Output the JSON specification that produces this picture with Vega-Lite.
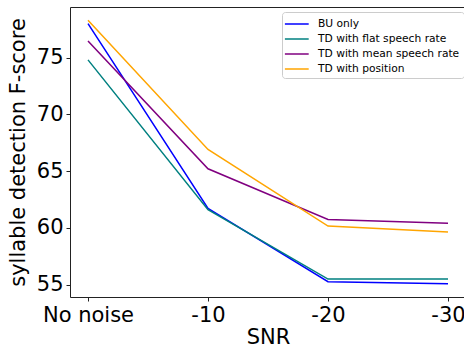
{
  "$schema": "https://vega.github.io/schema/vega-lite/v6.json",
  "autosize": "none",
  "width": 396,
  "height": 290,
  "padding": {"left": 70, "top": 7, "right": 0, "bottom": 55},
  "background": "white",
  "config": {
    "font": "DejaVu Sans",
    "view": {"stroke": "#222222", "strokeWidth": 1},
    "axis": {
      "grid": false,
      "domain": false,
      "tickColor": "#222222",
      "tickSize": 4,
      "labelFontSize": 21,
      "labelColor": "black",
      "titleFontSize": 21,
      "titleFontWeight": "normal",
      "titleColor": "black",
      "labelPadding": 3
    }
  },
  "data": {
    "values": [
      {"snr": "No noise", "series": "BU only", "f": 78.0},
      {"snr": "-10", "series": "BU only", "f": 61.7},
      {"snr": "-20", "series": "BU only", "f": 55.25},
      {"snr": "-30", "series": "BU only", "f": 55.07},
      {"snr": "No noise", "series": "TD with flat speech rate", "f": 74.8},
      {"snr": "-10", "series": "TD with flat speech rate", "f": 61.6},
      {"snr": "-20", "series": "TD with flat speech rate", "f": 55.48},
      {"snr": "-30", "series": "TD with flat speech rate", "f": 55.48},
      {"snr": "No noise", "series": "TD with mean speech rate", "f": 76.46},
      {"snr": "-10", "series": "TD with mean speech rate", "f": 65.2},
      {"snr": "-20", "series": "TD with mean speech rate", "f": 60.74},
      {"snr": "-30", "series": "TD with mean speech rate", "f": 60.41},
      {"snr": "No noise", "series": "TD with position", "f": 78.3},
      {"snr": "-10", "series": "TD with position", "f": 66.9},
      {"snr": "-20", "series": "TD with position", "f": 60.15},
      {"snr": "-30", "series": "TD with position", "f": 59.62}
    ]
  },
  "mark": {"type": "line", "strokeWidth": 1.5},
  "encoding": {
    "x": {
      "field": "snr",
      "type": "ordinal",
      "sort": ["No noise", "-10", "-20", "-30"],
      "scale": {"type": "point", "padding": 0.15},
      "axis": {"title": "SNR", "labelAngle": 0, "titlePadding": 1}
    },
    "y": {
      "field": "f",
      "type": "quantitative",
      "scale": {"domain": [53.9, 79.46], "nice": false, "zero": false},
      "axis": {"title": "syllable detection F-score", "values": [55, 60, 65, 70, 75], "titlePadding": 8}
    },
    "color": {
      "field": "series",
      "type": "nominal",
      "scale": {
        "domain": ["BU only", "TD with flat speech rate", "TD with mean speech rate", "TD with position"],
        "range": ["blue", "teal", "purple", "orange"]
      },
      "legend": {
        "title": null,
        "orient": "none",
        "legendX": 212,
        "legendY": 5,
        "symbolType": "M-1.3,0H2.1",
        "symbolSize": 196,
        "symbolStrokeWidth": 1.5,
        "symbolFillColor": "transparent",
        "labelFontSize": 10.7,
        "labelColor": "black",
        "labelOffset": 16,
        "rowPadding": 2,
        "padding": 4,
        "strokeColor": "#cccccc",
        "cornerRadius": 3,
        "fillColor": "white"
      }
    }
  }
}
